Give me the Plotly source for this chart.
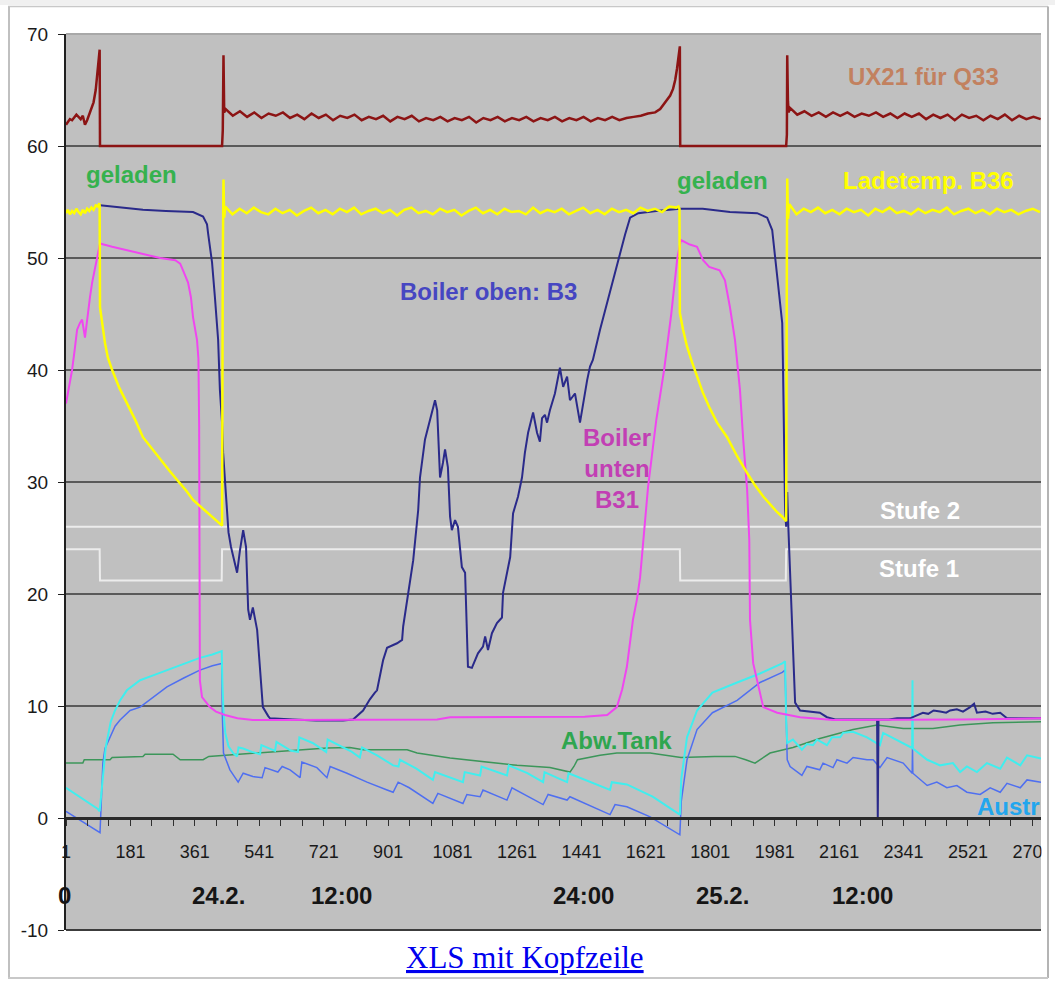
import plotly.graph_objects as go

# ---------------- data ----------------
ux21_x = [1, 6, 12, 18, 24, 30, 36, 42, 48, 54, 60, 66, 72, 78, 84, 88, 91, 94, 95, 96, 437, 439, 441, 443,
          447, 467, 487, 507, 527, 547, 567, 587, 607, 627, 647, 667, 687, 707, 727, 747, 767, 787, 807, 827,
          847, 867, 887, 907, 927, 947, 967, 987, 1007, 1027, 1047, 1067, 1087, 1107, 1127, 1147, 1167, 1187,
          1207, 1227, 1247, 1267, 1287, 1307, 1327, 1347, 1367, 1387, 1407, 1427, 1447, 1467, 1487, 1507, 1527, 1547,
          1567, 1587, 1607, 1627, 1647, 1661, 1675, 1689, 1697, 1703, 1708, 1711, 1714, 1716, 1717,
          2013, 2015, 2016, 2018, 2020,
          2024, 2044, 2064, 2084, 2104, 2124, 2144, 2164, 2184, 2204, 2224, 2244, 2264, 2284, 2304, 2324, 2344, 2364,
          2384, 2404, 2424, 2444, 2464, 2484, 2504, 2524, 2544, 2564, 2584, 2604, 2624, 2644, 2664, 2684, 2704, 2724]
ux21_y = [61.9, 62.1, 62.4, 62.3, 62.6, 62.8, 62.6, 62.4, 62.7, 61.9, 62.3, 62.9, 63.3, 63.9, 65.0, 66.4, 67.4, 68.3, 68.6, 60.0, 60.0, 61.4, 68.1, 63.0,
          63.3, 62.7, 63.1, 62.6, 63.0, 62.5, 62.9, 62.7, 63.0, 62.5, 62.8, 62.4, 62.9, 62.5, 62.8, 62.3, 62.7, 62.5, 62.8, 62.3,
          62.6, 62.4, 62.7, 62.2, 62.6, 62.4, 62.7, 62.2, 62.5, 62.3, 62.6, 62.2, 62.5, 62.3, 62.6, 62.1, 62.5, 62.3,
          62.6, 62.2, 62.5, 62.3, 62.6, 62.2, 62.5, 62.3, 62.6, 62.2, 62.5, 62.3, 62.6, 62.2, 62.5, 62.3, 62.6, 62.3,
          62.5, 62.6, 62.7, 62.9, 63.0, 63.3, 63.9, 64.5, 65.1, 65.9, 66.9, 67.7, 68.4, 68.9, 60.0,
          60.0, 61.0, 68.1, 64.0, 63.0,
          63.4, 62.8, 63.1, 62.7, 63.0, 62.6, 63.0, 62.7, 63.0, 62.6, 62.9, 62.7, 63.0, 62.6, 62.9, 62.5, 62.9, 62.6,
          62.9, 62.4, 62.8, 62.5, 62.8, 62.3, 62.8, 62.5, 62.7, 62.3, 62.7, 62.4, 62.8, 62.3, 62.7, 62.4, 62.6, 62.4]

b36_x = [1, 6, 12, 18, 24, 30, 36, 42, 48, 54, 60, 66, 72, 78, 84, 90, 94, 95,
         96, 104, 110, 118, 130, 150, 171, 195, 216, 240, 264, 290, 311, 335, 356, 380, 403, 420, 431, 437,
         439, 441, 443,
         446, 466, 486, 506, 526, 546, 566, 586, 606, 626, 646, 666, 686, 706, 726, 746, 766, 786, 806, 826,
         846, 866, 886, 906, 926, 946, 966, 986, 1006, 1026, 1046, 1066, 1086, 1106, 1126, 1146, 1166, 1186,
         1206, 1226, 1246, 1266, 1286, 1306, 1326, 1346, 1366, 1386, 1406, 1426, 1446, 1466, 1486, 1506, 1526,
         1546, 1566, 1586, 1606, 1626, 1646, 1666, 1686, 1706, 1712, 1715,
         1716, 1725, 1736, 1750, 1764, 1780, 1798, 1820, 1848, 1876, 1904, 1926, 1949, 1970, 1988, 2002, 2010, 2013,
         2015, 2016, 2018,
         2022, 2042, 2062, 2082, 2102, 2122, 2142, 2162, 2182, 2202, 2222, 2242, 2262, 2282, 2302, 2322, 2342, 2362,
         2382, 2402, 2422, 2442, 2462, 2482, 2502, 2522, 2542, 2562, 2582, 2602, 2622, 2642, 2662, 2682, 2702, 2722]
b36_y = [54.0, 54.3, 53.9, 54.2, 54.0, 54.4, 54.1, 53.9, 54.3, 54.0, 54.4, 54.2, 54.5, 54.3, 54.7, 54.6, 54.9, 54.7,
         45.6, 43.6, 42.4, 41.1, 40.0, 38.4, 37.1, 35.5, 34.0, 33.0, 32.0, 31.0, 30.2, 29.3, 28.4, 27.7, 27.1, 26.6, 26.3, 26.1,
         50.0, 57.0, 53.6,
         54.6, 53.9, 54.4, 54.0, 54.5, 54.1, 53.9, 54.4, 54.0, 54.3, 53.8, 54.2, 54.5, 54.0, 54.3, 53.9, 54.4, 54.1, 54.5, 53.9,
         54.2, 54.4, 54.0, 54.3, 53.8, 54.3, 54.5, 54.0, 54.2, 53.9, 54.4, 54.1, 54.3, 53.8, 54.2, 54.5, 54.0, 54.3,
         53.9, 54.4, 54.1, 54.2, 53.9, 54.5, 54.0, 54.3, 54.1, 54.4, 53.9, 54.2, 54.5, 54.0, 54.3, 53.9, 54.4,
         54.1, 54.3, 54.0, 54.5, 54.2, 54.4, 54.1, 54.6, 54.5, 54.6, 54.4,
         45.1, 43.6, 42.1, 40.7, 39.4, 38.0, 36.7, 35.3, 34.0, 32.3, 30.8, 29.7, 28.7, 27.9, 27.3, 26.9, 26.6, 26.5,
         50.0, 57.1, 53.5,
         54.8, 53.9, 54.4, 54.1, 54.5, 54.0, 54.3, 53.9, 54.4, 54.1, 54.3, 53.8, 54.4, 54.1, 54.5, 54.0, 54.2, 53.9,
         54.4, 54.0, 54.3, 54.1, 54.5, 53.9, 54.2, 54.4, 54.0, 54.3, 53.9, 54.4, 54.1, 54.3, 53.9, 54.2, 54.4, 54.1]

b3_x = [96, 150, 216, 280, 356, 384, 395, 398, 409, 417, 426, 431, 437, 440, 445, 455, 462, 468, 479, 487,
        496, 504, 510, 515, 523, 535, 543, 551, 566, 571, 635, 700, 775, 803, 831, 850, 864, 870, 887, 898,
        926, 940, 943, 957, 971, 985, 990, 1004, 1018, 1032, 1038, 1046, 1054, 1060, 1068, 1074, 1079, 1088, 1096, 1107,
        1116, 1124, 1135, 1152, 1166, 1172, 1180, 1191, 1205, 1219, 1222, 1242, 1250, 1264, 1275, 1283, 1292, 1306, 1317, 1325,
        1331, 1339, 1345, 1353, 1367, 1381, 1390, 1401, 1409, 1423, 1437, 1446, 1457, 1465, 1473, 1493, 1521, 1543, 1563, 1577,
        1600, 1650, 1716, 1780, 1856, 1932, 1960, 1974, 1982, 1991, 2002, 2004, 2007, 2010, 2013, 2016, 2018, 2024, 2029, 2038,
        2052, 2080, 2107, 2127, 2150, 2200, 2267, 2269, 2271, 2300, 2323, 2359, 2375, 2395, 2410, 2425, 2443, 2460, 2471, 2490,
        2507, 2527, 2538, 2546, 2570, 2590, 2611, 2630, 2680, 2725]
b3_y = [54.7, 54.5, 54.3, 54.2, 54.1, 53.7, 53.0, 52.2, 49.6, 46.5, 42.7, 38.2, 35.3, 32.6, 30.0, 25.5, 24.2, 23.3, 21.9, 23.9,
        25.7, 24.2, 18.6, 17.7, 18.8, 16.8, 13.5, 9.9, 9.1, 8.9, 8.8, 8.7, 8.7, 8.8, 9.6, 10.6, 11.2, 11.4, 14.1, 15.2,
        15.6, 15.9, 17.1, 20.1, 23.0, 27.5, 30.4, 33.8, 35.5, 37.3, 36.4, 30.4, 31.7, 32.9, 31.3, 26.9, 25.7, 26.6, 26.0, 22.4,
        21.9, 13.5, 13.4, 14.7, 15.3, 16.2, 15.0, 16.5, 17.4, 17.9, 20.1, 23.3, 27.2, 28.7, 30.4, 32.6, 34.4, 36.2, 34.4, 33.6,
        35.7, 36.0, 35.3, 36.4, 37.9, 40.2, 38.5, 39.4, 37.3, 37.9, 35.3, 37.1, 39.1, 40.3, 40.9, 43.6, 47.1, 49.8, 52.1, 53.6,
        54.0, 54.2, 54.4, 54.4, 54.1, 54.0, 53.6, 52.5, 50.1, 47.8, 44.2, 40.6, 34.0, 27.5, 26.0, 29.1, 26.9, 22.0, 17.7, 10.3,
        9.6, 9.5, 9.4, 9.0, 8.8, 8.8, 8.8, 0.1, 8.8, 8.8, 8.9, 8.9, 9.1, 9.4, 9.3, 9.6, 9.5, 9.4, 9.6, 9.7,
        9.5, 9.9, 10.2, 9.4, 9.5, 9.3, 9.4, 8.9, 8.9, 8.9]

b31_x = [1, 12, 18, 26, 32, 40, 46, 54, 60, 68, 74, 82, 88, 96, 130, 171, 216, 264, 306, 320,
         328, 342, 350, 356, 367, 371, 373, 375, 381, 392, 403, 420, 445, 480, 523, 600, 700, 800, 900, 1000,
         1038, 1074, 1150, 1250, 1350, 1450, 1513, 1540, 1555, 1568, 1585, 1596, 1605, 1627, 1650, 1672, 1692, 1709, 1719, 1744,
         1764, 1781, 1798, 1827, 1842, 1856, 1870, 1884, 1893, 1904, 1910, 1912, 1921, 1935, 1949, 1988, 2052, 2144, 2300, 2500,
         2725]
b31_y = [37.0, 38.8, 40.0, 42.0, 43.6, 44.2, 44.5, 42.9, 44.7, 46.5, 47.8, 49.2, 50.1, 51.3, 51.0, 50.7, 50.4, 50.0, 49.8, 49.5,
         48.9, 47.8, 46.5, 44.7, 42.7, 41.0, 35.0, 12.3, 10.8, 10.3, 9.9, 9.5, 9.2, 8.9, 8.75, 8.75, 8.75, 8.8, 8.75, 8.8,
         8.8, 9.0, 9.0, 9.05, 9.0, 9.05, 9.2, 9.9, 11.5, 13.5, 17.7, 19.5, 21.5, 29.5, 35.5, 40.0, 45.0, 50.0, 51.6, 51.2,
         51.0, 49.8, 49.2, 48.9, 48.0, 45.6, 42.7, 38.2, 33.8, 29.3, 24.8, 17.7, 13.8, 11.7, 9.9, 9.4, 9.0, 8.75, 8.75, 8.8,
         8.9]

cyan_x = [1, 40, 90, 95, 100, 106, 112, 118, 126, 138, 152, 171, 208, 250, 283, 330, 375, 410, 436, 438,
          441, 446, 455, 468, 479, 483, 496, 520, 543, 547, 575, 585, 589, 616, 630, 649, 653, 690, 728, 732,
          770, 800, 822, 828, 870, 915, 930, 934, 980, 1026, 1032, 1075, 1110, 1115, 1158, 1162, 1200, 1233, 1238, 1290,
          1334, 1338, 1380, 1401, 1405, 1460, 1521, 1526, 1568, 1640, 1716, 1720, 1736, 1764, 1807, 1876, 1940, 2002, 2010, 2013,
          2016, 2032, 2057, 2071, 2088, 2099, 2127, 2141, 2164, 2172, 2200, 2239, 2275, 2284, 2331, 2365, 2366, 2367, 2407, 2443,
          2479, 2499, 2518, 2546, 2574, 2611, 2630, 2667, 2686, 2725]
cyan_y = [2.7, 1.9, 0.8, 0.6, 2.5, 4.8, 6.3, 7.3, 8.6, 9.6, 10.5, 11.4, 12.3, 12.8, 13.2, 13.7, 14.3, 14.6, 14.9, 12.0,
          9.5, 7.6, 6.4, 5.8, 5.5, 6.3, 6.2, 5.9, 5.7, 6.5, 6.1, 6.0, 6.8, 6.3, 6.0, 5.9, 7.2, 6.7, 5.9, 7.0,
          6.4, 5.9, 5.4, 6.3, 5.6, 4.7, 4.6, 5.2, 4.4, 3.4, 4.1, 3.6, 3.2, 4.1, 3.8, 4.6, 4.2, 3.8, 4.7, 4.0,
          3.2, 4.1, 3.5, 3.2, 4.0, 3.3, 2.5, 3.2, 3.0, 1.9, 0.3, 3.5, 7.2, 9.6, 11.2, 12.1, 12.9, 13.8, 14.0, 8.75,
          6.7, 7.0, 6.1, 6.6, 6.5, 7.0, 6.5, 7.2, 7.2, 7.6, 7.7, 7.2, 6.5, 7.6, 6.8, 6.25, 12.3, 6.2, 5.2, 4.7,
          4.9, 4.1, 4.6, 4.1, 4.9, 4.4, 5.4, 4.7, 5.6, 5.3]

austr_x = [1, 40, 90, 96, 99, 104, 110, 124, 138, 152, 180, 208, 250, 283, 330, 375, 410, 436, 438, 441,
           459, 482, 496, 523, 549, 557, 593, 605, 627, 655, 660, 702, 730, 739, 786, 842, 898, 915, 929, 960,
           1026, 1040, 1110, 1121, 1158, 1166, 1233, 1247, 1334, 1348, 1401, 1409, 1521, 1535, 1568, 1633, 1716, 1720, 1736, 1764,
           1807, 1876, 1940, 2002, 2010, 2014, 2016, 2024, 2057, 2071, 2107, 2116, 2144, 2155, 2183, 2200, 2239, 2256, 2275, 2295,
           2340, 2365, 2366, 2367, 2407, 2434, 2462, 2490, 2518, 2555, 2583, 2611, 2630, 2667, 2686, 2725]
austr_y = [0.6, -0.2, -1.2, -1.3, 1.0, 4.9, 6.2, 7.2, 8.2, 8.75, 9.6, 9.9, 10.9, 11.7, 12.5, 13.2, 13.6, 13.8, 9.0, 5.8,
           4.3, 3.2, 4.0, 3.7, 3.6, 4.5, 4.1, 4.6, 4.3, 3.6, 5.0, 4.5, 3.6, 4.6, 4.0, 3.2, 2.5, 2.3, 3.2, 2.7,
           1.3, 2.2, 1.3, 2.1, 1.9, 2.5, 1.6, 2.7, 1.2, 2.1, 1.6, 1.9, 0.3, 1.2, 1.0, 0.1, -1.5, 1.5, 5.2, 7.9,
           9.4, 10.5, 12.1, 13.0, 13.2, 6.0, 5.2, 4.6, 3.8, 4.6, 4.3, 4.9, 4.5, 5.2, 4.9, 5.4, 5.2, 5.2, 4.5, 5.4,
           4.9, 4.0, 6.3, 4.0, 2.9, 3.2, 2.7, 2.9, 2.3, 2.1, 2.7, 2.3, 3.1, 2.7, 3.4, 3.2]

tank_x = [1, 48, 52, 124, 130, 216, 222, 300, 320, 384, 400, 482, 563, 655, 730, 794, 831, 954, 982, 1074,
          1166, 1261, 1353, 1409, 1420, 1430, 1493, 1540, 1633, 1719, 1813, 1870, 1900, 1926, 1968, 2032, 2107, 2200, 2267, 2312,
          2340, 2423, 2499, 2591, 2725]
tank_y = [4.9, 4.9, 5.2, 5.2, 5.4, 5.5, 5.7, 5.7, 5.2, 5.2, 5.5, 5.7, 5.9, 6.1, 6.25, 6.3, 6.1, 6.1, 5.8, 5.35,
          5.0, 4.7, 4.5, 4.1, 4.6, 5.2, 5.6, 5.8, 5.8, 5.4, 5.5, 5.5, 5.2, 4.9, 5.8, 6.3, 7.1, 7.9, 8.3, 8.1,
          8.0, 8.0, 8.3, 8.5, 8.6]

stufe1_x = [1, 95, 96, 436, 437, 1716, 1717, 2012, 2013, 2725]
stufe1_y = [24.0, 24.0, 21.2, 21.2, 24.0, 24.0, 21.2, 21.2, 24.0, 24.0]
stufe2_x = [1, 2725]
stufe2_y = [26.0, 26.0]

x_tick_vals = [1, 181, 361, 541, 721, 901, 1081, 1261, 1441, 1621, 1801, 1981, 2161, 2341, 2521, 2701]
x_tick_text = ["1", "181", "361", "541", "721", "901", "1081", "1261", "1441", "1621", "1801", "1981", "2161", "2341", "2521", "2701"]
y_tick_vals = [-10, 0, 10, 20, 30, 40, 50, 60, 70]
y_tick_text = ["-10", "0", "10", "20", "30", "40", "50", "60", "70"]

time_labels = ["0", "24.2.", "12:00", "24:00", "25.2.", "12:00"]
time_pos = [1, 428, 772, 1446, 1834, 2225]
time_level = -6.9

# label texts with their anchor (x, y) in data units
labels = [
    ("geladen", 183, 57.5, "#35b24e"),
    ("geladen", 1834, 56.9, "#35b24e"),
    ("UX21 für Q33", 2396, 66.25, "#c2815f"),
    ("Ladetemp. B36", 2410, 56.9, "#ffff00"),
    ("Boiler oben: B3", 1180, 47.0, "#4646c2"),
    ("Boiler<br>unten<br>B31", 1541, 31.25, "#c23fb4"),
    ("Stufe 2", 2387, 27.5, "#ffffff"),
    ("Stufe 1", 2384, 22.3, "#ffffff"),
    ("Abw.Tank", 1538, 6.9, "#2fa64f"),
]
austr_label = ("Austr", 2541, 1.07, "#22a6ee")

# ---------------- figure ----------------
W, H = 1055, 981
ML, MR, MT, MB = 66, 14, 34, 51
PW, PH = W - ML - MR, H - MT - MB


def px(p):
    return (p - ML) / PW


def py(p):
    return (H - MB - p) / PH


fig = go.Figure()

def add_line(xs, ys, color, width):
    n = min(len(xs), len(ys))
    fig.add_trace(go.Scatter(x=xs[:n], y=ys[:n], mode="lines",
                             line=dict(color=color, width=width),
                             hoverinfo="skip", showlegend=False))

add_line(stufe2_x, stufe2_y, "#ececec", 2)
add_line(stufe1_x, stufe1_y, "#ececec", 2)
add_line(tank_x, tank_y, "#3c965a", 1.5)
add_line(austr_x, austr_y, "#4f6ff0", 1.5)
add_line(cyan_x, cyan_y, "#40eeee", 2)
add_line(b3_x, b3_y, "#2a2a8a", 2)
add_line(b31_x, b31_y, "#f046f0", 2)
add_line(b36_x, b36_y, "#ffff00", 2.5)
add_line(ux21_x, ux21_y, "#8c1414", 2.5)

annotations = []
for txt, xv, yv, col in labels:
    annotations.append(dict(x=xv, y=yv, xref="x", yref="y", text="<b>" + txt + "</b>",
                            showarrow=False, align="center",
                            font=dict(family="Liberation Sans, Arial", size=24, color=col)))
annotations.append(dict(x=austr_label[1], y=austr_label[2], xref="x", yref="y",
                        text="<b>" + austr_label[0] + "</b>", showarrow=False, xanchor="left",
                        font=dict(family="Liberation Sans, Arial", size=24, color=austr_label[3])))
for txt, xv in zip(time_labels, time_pos):
    annotations.append(dict(x=xv, y=time_level, xref="x", yref="y", text="<b>" + txt + "</b>",
                            showarrow=False, xshift=-2 if txt == "0" else 0,
                            font=dict(family="Liberation Sans, Arial", size=24, color="#151515")))
annotations.append(dict(x=px(525), y=py(957), xref="paper", yref="paper",
                        xanchor="center", yanchor="middle",
                        text="<u>XLS mit Kopfzeile</u>", showarrow=False,
                        font=dict(family="Liberation Serif, Times New Roman", size=31, color="#0000ee")))

shapes = [
    # plot top and bottom border
    dict(type="line", xref="paper", yref="paper", x0=0, x1=1, y0=1, y1=1,
         line=dict(color="#a8a8a8", width=2), layer="above"),
    dict(type="line", xref="paper", yref="paper", x0=0, x1=1, y0=0, y1=0,
         line=dict(color="#3c3c3c", width=2), layer="above"),
    # white cover right of the plot (clips overflowing tick label)
    dict(type="rect", xref="paper", yref="paper", x0=px(1041.5), x1=px(1056), y0=py(981), y1=py(0),
         fillcolor="#ffffff", line=dict(width=0), layer="above"),
    # page frame
    dict(type="rect", xref="paper", yref="paper", x0=px(0), x1=px(1055), y0=py(5), y1=py(0),
         fillcolor="#f0f0f0", line=dict(width=0), layer="above"),
    dict(type="line", xref="paper", yref="paper", x0=px(8), x1=px(1048), y0=py(6.5), y1=py(6.5),
         line=dict(color="#c8c8c8", width=1.5), layer="above"),
    dict(type="line", xref="paper", yref="paper", x0=px(9), x1=px(9), y0=py(6.5), y1=py(978),
         line=dict(color="#c0c0c0", width=2), layer="above"),
    dict(type="line", xref="paper", yref="paper", x0=px(1048), x1=px(1048), y0=py(6.5), y1=py(978),
         line=dict(color="#b4b4b4", width=2), layer="above"),
    dict(type="line", xref="paper", yref="paper", x0=px(8), x1=px(1048), y0=py(978), y1=py(978),
         line=dict(color="#c8c8c8", width=2), layer="above"),
]

fig.update_layout(
    width=W, height=H,
    margin=dict(l=ML, r=MR, t=MT, b=MB, pad=0),
    paper_bgcolor="#ffffff",
    plot_bgcolor="#c0c0c0",
    showlegend=False,
    hovermode=False,
    annotations=annotations,
    shapes=shapes,
    xaxis=dict(
        range=[1, 2725], anchor="free", position=10 / 80,
        tickmode="array", tickvals=x_tick_vals, ticktext=x_tick_text,
        ticks="outside", ticklen=6, tickwidth=1, tickcolor="#303030",
        minor=dict(tickmode="linear", tick0=1, dtick=60, ticks="outside", ticklen=6,
                   tickwidth=1, tickcolor="#303030", showgrid=False),
        showline=True, linecolor="#2a2a2a", linewidth=2.5,
        showgrid=False, zeroline=False,
        tickfont=dict(family="Liberation Sans Narrow, Liberation Sans, Arial", size=18, color="#1a1a1a"),
        ticklabelstandoff=11, automargin=False, fixedrange=True,
    ),
    yaxis=dict(
        range=[-10, 70], tickmode="array", tickvals=y_tick_vals, ticktext=y_tick_text,
        ticks="outside", ticklen=6, tickwidth=1, tickcolor="#202020",
        showline=True, linecolor="#202020", linewidth=2,
        showgrid=True, gridcolor="#5a5a5a", gridwidth=2.5,
        zeroline=False,
        tickfont=dict(family="Liberation Sans, Arial", size=19, color="#1a1a1a"),
        ticklabelstandoff=6, automargin=False, fixedrange=True,
    ),
)

fig.write_html("out.html", config={"displayModeBar": False, "staticPlot": True})
